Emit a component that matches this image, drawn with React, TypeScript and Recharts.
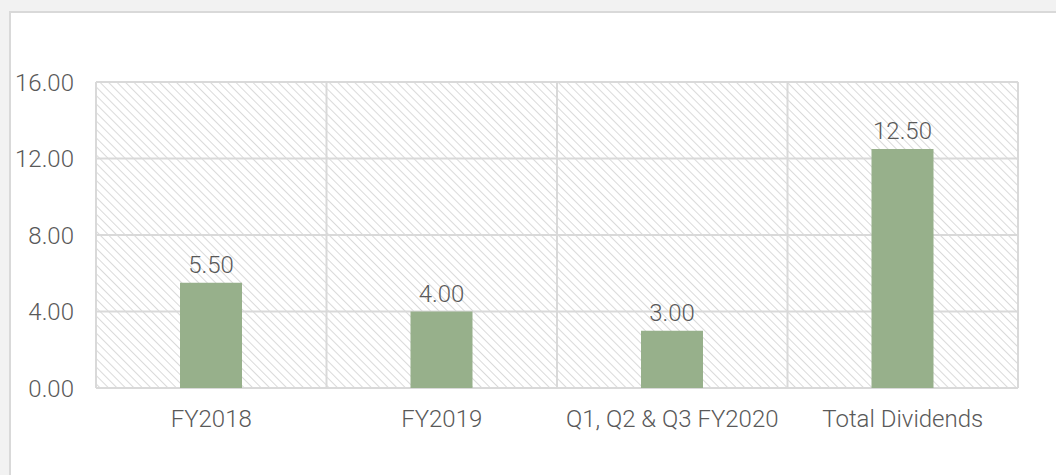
import { Bar, BarChart, CartesianGrid, LabelList, XAxis, YAxis } from "recharts";

const categories = ["FY2018", "FY2019", "Q1, Q2 & Q3 FY2020", "Total Dividends"];
const dividends = [5.5, 4.0, 3.0, 12.5];
const yTicks = [0, 4, 8, 12, 16];

const data = categories.map((name, i) => ({ name, value: dividends[i] }));

const TEXT = "#595959";
const GRID = "#d9d9d9";
const FONT = "'Roboto Light', Roboto, 'Liberation Sans', sans-serif";

export default function App() {
  return (
    <div style={{ position: "absolute", left: 0, top: 0, width: 1056, height: 475, background: "#f2f2f2", overflow: "hidden" }}>
      <div
        style={{
          position: "absolute",
          left: 9,
          top: 11,
          width: 1060,
          height: 480,
          background: "#fff",
          border: `2px solid ${GRID}`,
          boxSizing: "border-box",
        }}
      />
      <div style={{ position: "absolute", left: 0, top: 0 }}>
        <BarChart
          width={1056}
          height={475}
          data={data}
          margin={{ top: 82, right: 38, left: 0, bottom: 27 }}
        >
          <defs>
            <pattern id="hatch" width="6" height="6" patternUnits="userSpaceOnUse" patternTransform="rotate(-45)">
              <line x1="0" y1="0" x2="0" y2="6" stroke="#d6d6d6" strokeWidth="1.8" />
            </pattern>
          </defs>
          <CartesianGrid
            fill="url(#hatch)"
            fillOpacity={1}
            stroke={GRID}
            strokeWidth={2}
            verticalCoordinatesGenerator={({ offset }: any) =>
              [0, 1, 2, 3, 4].map((i) => offset.left + (i * offset.width) / categories.length)
            }
          />
          <XAxis
            dataKey="name"
            axisLine={false}
            tickLine={false}
            tickSize={0}
            tickMargin={22}
            height={60}
            interval={0}
            tick={{ fill: TEXT, fontSize: 24, fontFamily: FONT, fontWeight: 300 }}
          />
          <YAxis
            domain={[0, 16]}
            ticks={yTicks}
            width={96}
            axisLine={false}
            tickLine={false}
            tickSize={0}
            tickMargin={22}
            tickFormatter={(v: number) => v.toFixed(2)}
            tick={{ fill: TEXT, fontSize: 24, fontFamily: FONT, fontWeight: 300 }}
          />
          <Bar dataKey="value" fill="#97b08b" barSize={62} isAnimationActive={false}>
            <LabelList
              dataKey="value"
              position="top"
              offset={10}
              formatter={(v: any) => Number(v).toFixed(2)}
              style={{ fill: TEXT, fontSize: 24, fontFamily: FONT, fontWeight: 300 }}
            />
          </Bar>
        </BarChart>
      </div>
    </div>
  );
}
